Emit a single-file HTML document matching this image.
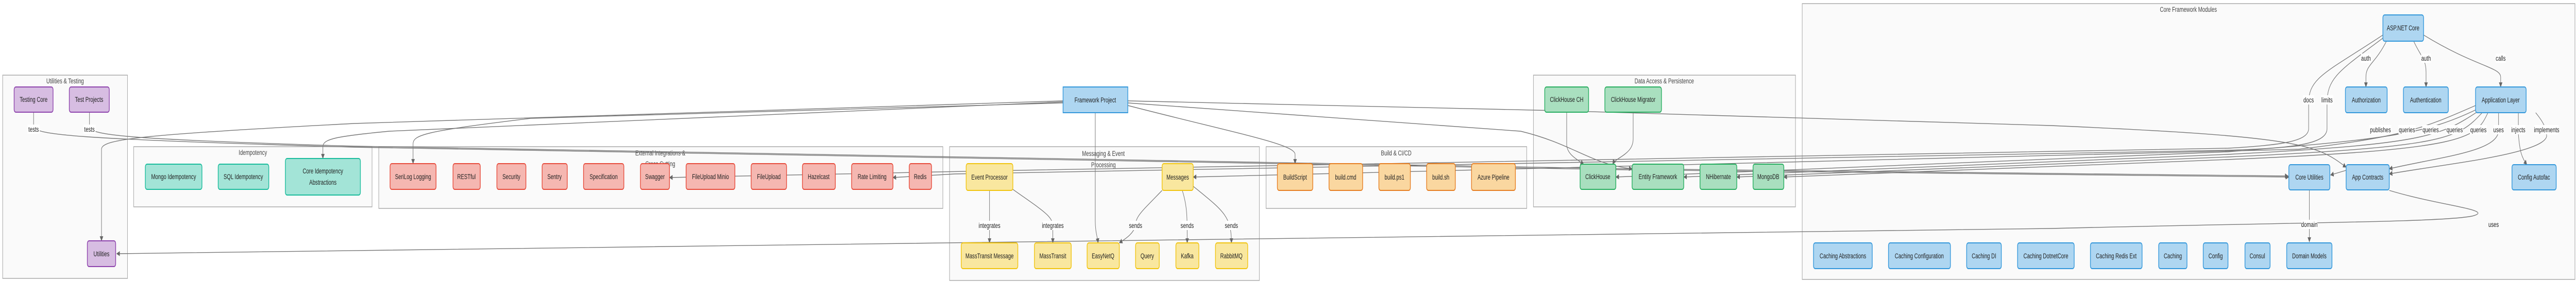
<!DOCTYPE html>
<html><head><meta charset="utf-8"><style>
html,body{margin:0;padding:0;background:#fff;width:100%;height:100%;overflow:hidden;}
svg{display:block;width:100vw;height:100vh;}
text{font-family:"Liberation Sans",sans-serif;}
.n{font-size:14px;fill:#222;text-anchor:middle;}
.t{font-size:14px;fill:#444;text-anchor:middle;}
.l{font-size:14px;fill:#222;text-anchor:middle;}
.c{fill:#fafafa;stroke:#aaa;stroke-width:1.5;}
.e{fill:none;stroke:#777;stroke-width:1.4;}
</style></head><body>
<svg viewBox="0 0 7284 548" preserveAspectRatio="none" xmlns="http://www.w3.org/2000/svg">
<defs><marker id="a" viewBox="0 0 10 10" refX="9" refY="5" markerWidth="7" markerHeight="7" orient="auto-start-reverse"><path d="M0,0 L10,5 L0,10 z" fill="#666"/></marker></defs>
<rect class="c" x="7.5" y="146" width="353" height="395"/>
<rect class="c" x="378" y="285" width="674" height="117"/>
<rect class="c" x="1071" y="285" width="1595" height="120"/>
<rect class="c" x="2685" y="285" width="876" height="260"/>
<rect class="c" x="3580" y="285" width="737" height="120"/>
<rect class="c" x="4336" y="146" width="741" height="256"/>
<rect class="c" x="5096" y="7" width="2185" height="536"/>
<text class="t" x="184" y="162">Utilities &amp; Testing</text>
<text class="t" x="715" y="301">Idempotency</text>
<text class="t" x="1867" y="302">External Integrations &amp;</text>
<text class="t" x="1867" y="323">Cross Cutting</text>
<text class="t" x="3120" y="303">Messaging &amp; Event</text>
<text class="t" x="3120" y="325">Processing</text>
<text class="t" x="3948" y="302">Build &amp; CI/CD</text>
<text class="t" x="4706" y="162">Data Access &amp; Persistence</text>
<text class="t" x="6188" y="23">Core Framework Modules</text>
<g class="e" marker-end="url(#a)">
<path d="M6748,80 C6715,125 6690,125 6690,150 L6690,169"/>
<path d="M6825,80 C6845,110 6860,115 6860,140 L6860,169"/>
<path d="M6853,68 C7000,130 7071,130 7071,150 L7071,169"/>
<path d="M6738,68 C6580,140 6528,150 6528,200 L6528,250 C6528,275 6450,282 6300,288 L2800,332 L1893,345"/>
<path d="M6738,74 C6620,135 6580,150 6580,200 L6580,250 C6580,278 6500,288 6300,292 L2700,338 L2525,345"/>
<path d="M7000,205 C6850,250 6800,265 6500,290 L3374,344"/>
<path d="M7005,212 C6860,260 6760,270 6300,295 L4569,344"/>
<path d="M7010,215 C6900,265 6860,280 6300,300 L4761,344"/>
<path d="M7020,218 C6950,270 6920,285 6300,305 L4911,344"/>
<path d="M7035,219 C7000,270 6980,290 6300,310 L5044,344"/>
<path d="M7065,219 L7065,255 C7060,295 6900,305 6756,328"/>
<path d="M7121,219 L7121,260 C7125,295 7130,305 7145,320"/>
<path d="M7170,219 C7195,240 7201,252 7201,265 C7190,300 6900,320 6756,338"/>
<path d="M6634,331 L6590,340"/>
<path d="M6530,369 L6530,470"/>
<path d="M6756,370 C6900,400 7060,408 6990,420 C6900,432 6500,432 5800,444 L330,493"/>
<path d="M95,218 L95,245 C95,262 200,270 1000,286 L4600,330 L6472,344"/>
<path d="M253,218 L253,245 C253,262 320,270 1000,284 L4600,328 L6470,342"/>
<path d="M3006,196 L1000,240 C400,262 287,270 287,290 L287,468"/>
<path d="M3006,198 L1100,255 C950,265 913,270 913,285 L913,308"/>
<path d="M3006,200 L1500,230 C1200,255 1168,262 1168,280 L1168,318"/>
<path d="M3097,219 L3097,430 C3097,450 3103,460 3105,472"/>
<path d="M3189,205 C3500,260 3662,280 3662,300 L3662,318"/>
<path d="M3189,200 L4300,255 C4450,280 4500,320 4615,328"/>
<path d="M3189,196 L4400,215 L5800,244 C6500,265 6550,280 6634,325"/>
<path d="M2798,370 L2798,472"/>
<path d="M2864,368 C2950,410 2977,420 2977,440 L2977,472"/>
<path d="M3286,370 C3230,410 3211,420 3211,438 C3205,455 3180,465 3165,472"/>
<path d="M3343,370 C3357,400 3357,420 3357,472"/>
<path d="M3374,362 C3460,410 3482,420 3482,472"/>
<path d="M4430,218 L4430,280 C4430,300 4460,310 4478,319"/>
<path d="M4618,218 L4618,270 C4618,300 4570,305 4560,319"/>
</g>
<g>
<rect x="78" y="242" width="34" height="18" fill="#fff"/><text class="l" x="95" y="256">tests</text>
<rect x="236" y="242" width="34" height="18" fill="#fff"/><text class="l" x="253" y="256">tests</text>
<rect x="6676" y="104" width="28" height="18" fill="#fff"/><text class="l" x="6690" y="118">auth</text>
<rect x="6846" y="104" width="28" height="18" fill="#fff"/><text class="l" x="6860" y="118">auth</text>
<rect x="7057" y="104" width="28" height="18" fill="#fff"/><text class="l" x="7071" y="118">calls</text>
<rect x="6512" y="185" width="32" height="18" fill="#fff"/><text class="l" x="6528" y="199">docs</text>
<rect x="6563" y="185" width="34" height="18" fill="#fff"/><text class="l" x="6580" y="199">limits</text>
<rect x="6700" y="243" width="62" height="18" fill="#fff"/><text class="l" x="6731" y="257">publishes</text>
<rect x="6782" y="243" width="48" height="18" fill="#fff"/><text class="l" x="6806" y="257">queries</text>
<rect x="6849" y="243" width="48" height="18" fill="#fff"/><text class="l" x="6873" y="257">queries</text>
<rect x="6917" y="243" width="48" height="18" fill="#fff"/><text class="l" x="6941" y="257">queries</text>
<rect x="6984" y="243" width="48" height="18" fill="#fff"/><text class="l" x="7008" y="257">queries</text>
<rect x="7051" y="243" width="28" height="18" fill="#fff"/><text class="l" x="7065" y="257">uses</text>
<rect x="7101" y="243" width="40" height="18" fill="#fff"/><text class="l" x="7121" y="257">injects</text>
<rect x="7167" y="243" width="68" height="18" fill="#fff"/><text class="l" x="7201" y="257">implements</text>
<rect x="6508" y="427" width="44" height="18" fill="#fff"/><text class="l" x="6530" y="441">domain</text>
<text class="l" x="7051" y="441">uses</text>
<rect x="2770" y="429" width="56" height="18" fill="#fff"/><text class="l" x="2798" y="443">integrates</text>
<rect x="2949" y="429" width="56" height="18" fill="#fff"/><text class="l" x="2977" y="443">integrates</text>
<rect x="3195" y="429" width="32" height="18" fill="#fff"/><text class="l" x="3211" y="443">sends</text>
<rect x="3341" y="429" width="32" height="18" fill="#fff"/><text class="l" x="3357" y="443">sends</text>
<rect x="3466" y="429" width="32" height="18" fill="#fff"/><text class="l" x="3482" y="443">sends</text>
</g>
<g stroke-width="2">
<g fill="#D7BDE2" stroke="#8E44AD">
<rect x="40" y="169" width="110" height="49" rx="5"/><rect x="196" y="169" width="113" height="49" rx="5"/><rect x="247" y="468" width="80" height="50" rx="5"/>
</g>
<g fill="#A3E4D7" stroke="#1ABC9C">
<rect x="411" y="319" width="160" height="49" rx="5"/><rect x="617" y="319" width="143" height="49" rx="5"/><rect x="807" y="308" width="212" height="71" rx="5"/>
</g>
<g fill="#F5B7B1" stroke="#E74C3C">
<rect x="1103" y="318" width="130" height="50" rx="5"/><rect x="1281" y="318" width="77" height="50" rx="5"/><rect x="1405" y="318" width="82" height="50" rx="5"/><rect x="1533" y="318" width="71" height="50" rx="5"/><rect x="1650" y="318" width="114" height="50" rx="5"/><rect x="1811" y="318" width="82" height="50" rx="5"/><rect x="1940" y="318" width="138" height="50" rx="5"/><rect x="2124" y="318" width="100" height="50" rx="5"/><rect x="2269" y="318" width="93" height="50" rx="5"/><rect x="2408" y="318" width="117" height="50" rx="5"/><rect x="2571" y="318" width="63" height="50" rx="5"/>
</g>
<g fill="#F9E79F" stroke="#F1C40F">
<rect x="2732" y="318" width="132" height="52" rx="5"/><rect x="3286" y="318" width="88" height="52" rx="5"/>
<rect x="2718" y="472" width="160" height="50" rx="5"/><rect x="2925" y="472" width="104" height="50" rx="5"/><rect x="3074" y="472" width="91" height="50" rx="5"/><rect x="3211" y="472" width="67" height="50" rx="5"/><rect x="3325" y="472" width="65" height="50" rx="5"/><rect x="3437" y="472" width="91" height="50" rx="5"/>
</g>
<g fill="#FAD7A0" stroke="#E67E22">
<rect x="3612" y="318" width="100" height="52" rx="5"/><rect x="3758" y="318" width="95" height="52" rx="5"/><rect x="3899" y="318" width="89" height="52" rx="5"/><rect x="4034" y="318" width="81" height="52" rx="5"/><rect x="4161" y="318" width="124" height="52" rx="5"/>
</g>
<g fill="#A9DFBF" stroke="#27AE60">
<rect x="4368" y="169" width="124" height="49" rx="5"/><rect x="4538" y="169" width="160" height="49" rx="5"/><rect x="4468" y="319" width="101" height="49" rx="5"/><rect x="4615" y="319" width="146" height="49" rx="5"/><rect x="4807" y="319" width="104" height="49" rx="5"/><rect x="4957" y="319" width="87" height="49" rx="5"/>
</g>
<g fill="#AED6F1" stroke="#3498DB">
<rect x="3006" y="169" width="183" height="50" rx="0"/>
<rect x="6738" y="29" width="115" height="51" rx="5"/><rect x="6632" y="169" width="118" height="50" rx="5"/><rect x="6796" y="169" width="127" height="50" rx="5"/><rect x="7000" y="169" width="143" height="50" rx="5"/>
<rect x="6472" y="320" width="116" height="49" rx="5"/><rect x="6634" y="320" width="122" height="49" rx="5"/><rect x="7103" y="320" width="125" height="49" rx="5"/>
<rect x="5128" y="472" width="166" height="50" rx="5"/><rect x="5340" y="472" width="175" height="50" rx="5"/><rect x="5561" y="472" width="98" height="50" rx="5"/><rect x="5705" y="472" width="160" height="50" rx="5"/><rect x="5911" y="472" width="146" height="50" rx="5"/><rect x="6104" y="472" width="80" height="50" rx="5"/><rect x="6230" y="472" width="70" height="50" rx="5"/><rect x="6348" y="472" width="71" height="50" rx="5"/><rect x="6466" y="472" width="128" height="50" rx="5"/>
</g>
</g>
<g class="n">
<text x="95" y="198">Testing Core</text><text x="252" y="198">Test Projects</text><text x="287" y="498">Utilities</text>
<text x="491" y="348">Mongo Idempotency</text><text x="688" y="348">SQL Idempotency</text><text x="913" y="337">Core Idempotency</text><text x="913" y="359">Abstractions</text>
<text x="1168" y="348">SeriLog Logging</text><text x="1319" y="348">RESTful</text><text x="1446" y="348">Security</text><text x="1568" y="348">Sentry</text><text x="1707" y="348">Specification</text><text x="1852" y="348">Swagger</text><text x="2009" y="348">FileUpload Minio</text><text x="2174" y="348">FileUpload</text><text x="2315" y="348">Hazelcast</text><text x="2466" y="348">Rate Limiting</text><text x="2602" y="348">Redis</text>
<text x="3097" y="199">Framework Project</text>
<text x="2798" y="349">Event Processor</text><text x="3330" y="349">Messages</text>
<text x="2798" y="502">MassTransit Message</text><text x="2977" y="502">MassTransit</text><text x="3119" y="502">EasyNetQ</text><text x="3244" y="502">Query</text><text x="3357" y="502">Kafka</text><text x="3482" y="502">RabbitMQ</text>
<text x="3662" y="349">BuildScript</text><text x="3805" y="349">build.cmd</text><text x="3943" y="349">build.ps1</text><text x="4074" y="349">build.sh</text><text x="4223" y="349">Azure Pipeline</text>
<text x="4430" y="198">ClickHouse CH</text><text x="4618" y="198">ClickHouse Migrator</text><text x="4518" y="348">ClickHouse</text><text x="4688" y="348">Entity Framework</text><text x="4859" y="348">NHibernate</text><text x="5000" y="348">MongoDB</text>
<text x="6795" y="59">ASP.NET Core</text><text x="6691" y="199">Authorization</text><text x="6859" y="199">Authentication</text><text x="7071" y="199">Application Layer</text>
<text x="6530" y="349">Core Utilities</text><text x="6695" y="349">App Contracts</text><text x="7165" y="349">Config Autofac</text>
<text x="5211" y="502">Caching Abstractions</text><text x="5427" y="502">Caching Configuration</text><text x="5610" y="502">Caching DI</text><text x="5785" y="502">Caching DotnetCore</text><text x="5984" y="502">Caching Redis Ext</text><text x="6144" y="502">Caching</text><text x="6265" y="502">Config</text><text x="6383" y="502">Consul</text><text x="6530" y="502">Domain Models</text>
</g>
</svg>
</body></html>
